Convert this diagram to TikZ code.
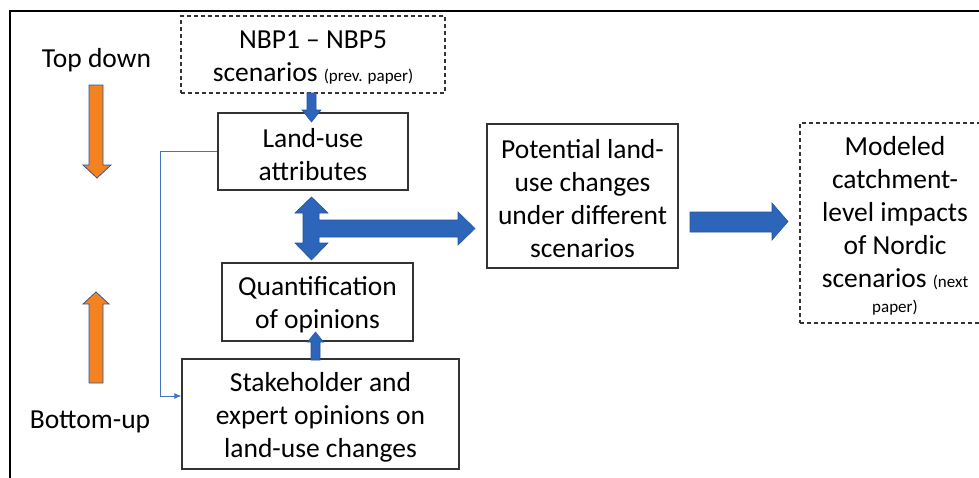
\documentclass[tikz,border=0pt]{standalone}
\usepackage{fontspec}
\setmainfont{Carlito}
\usetikzlibrary{arrows.meta}
\definecolor{bblue}{RGB}{45,101,186}
\definecolor{bbline}{RGB}{38,84,158}
\definecolor{orng}{RGB}{245,130,32}
\definecolor{oline}{RGB}{52,84,145}
\definecolor{tblue}{RGB}{68,114,196}
\newcommand\bigf{\fontsize{27.5}{33}\selectfont}
\newcommand\smallf{\fontsize{17}{20}\selectfont}
\begin{document}
\begin{tikzpicture}[x=1pt,y=-1pt,
  box/.style={draw=black!80, line width=1.2pt, fill=white, inner sep=0pt},
  dbox/.style={box, dash pattern=on 4pt off 3pt},
  btxt/.style={align=center, font=\bigf, inner sep=0pt, yshift=-3pt},
  lbl/.style={font=\bigf, inner sep=0pt},
  barrow/.style={fill=bblue, draw=bbline, line width=0.6pt},
  oarrow/.style={fill=orng, draw=oline, line width=0.8pt},
  thinline/.style={draw=tblue, line width=0.9pt}]
\useasboundingbox (0,0) rectangle (979,477);
% outer frame
\draw[line width=2pt] (10,500) -- (10,11) -- (1000,11);
% boxes
\node[dbox, minimum width=264pt, minimum height=77pt] (nbp) at (313,54.5) {};
\node[btxt] (nbpt) at (nbp.center) {NBP1 – NBP5\\scenarios {\smallf (prev. paper)}};
\node[box, minimum width=190pt, minimum height=77pt] (lu) at (313,151.5) {};
\node[btxt] (lut) at (lu.center) {Land-use\\attributes};
\node[box, minimum width=191pt, minimum height=78pt] (qu) at (317.5,302) {};
\node[btxt] (qut) at (qu.center) {Quantification\\of opinions};
\node[box, minimum width=277pt, minimum height=110pt] (sh) at (320.5,414) {};
\node[btxt] (sht) at (sh.center) {Stakeholder and\\expert opinions on\\land-use changes};
\node[box, minimum width=191pt, minimum height=144pt] (pot) at (582.5,196) {};
\node[btxt] (pott) at (pot.center) {Potential land-\\use changes\\under different\\scenarios};
\node[dbox, minimum width=190pt, minimum height=200pt] (mod) at (895,223) {};
\node[btxt] (modt) at (mod.center)
  {Modeled\\catchment-\\level impacts\\of Nordic\\scenarios {\smallf (next}\\[-8pt]{\smallf paper)}};
% side labels
\node[lbl] (td) at (96.5,60) {Top down};
\node[lbl] (bu) at (90,421.5) {Bottom-up};
% orange arrows
\draw[oarrow] (89,85) -- (103,85) -- (103,165) -- (111,165) -- (97,178) -- (83,165) -- (89,165) -- cycle;
\draw[oarrow] (89,383) -- (89,304) -- (83,304) -- (96,292) -- (109,304) -- (103,304) -- (103,383) -- cycle;
% blue block arrows
\draw[barrow] (307,93) -- (316,93) -- (316,110) -- (321,110) -- (311.5,122) -- (302,110) -- (307,110) -- cycle;
\draw[barrow] (311,360) -- (311,342) -- (307.5,342) -- (315.5,332) -- (323.5,342) -- (320,342) -- (320,360) -- cycle;
\draw[barrow] (311.5,197) -- (328,213) -- (319,213) -- (319,220) -- (458,220) -- (458,212) -- (475,228.5)
  -- (458,245) -- (458,237) -- (319,237) -- (319,243) -- (328,243) -- (311.5,260) -- (295,243)
  -- (303,243) -- (303,213) -- (295,213) -- cycle;
\draw[barrow] (690,212) -- (772,212) -- (772,203) -- (788,221.5) -- (772,240) -- (772,232) -- (690,232) -- cycle;
% thin connector
\coordinate (bend) at (160,396);
\draw[thinline, -{Latex[length=7pt,width=6pt]}] (lu.west) -| (bend) -- (sh.west |- bend);
\end{tikzpicture}
\end{document}
